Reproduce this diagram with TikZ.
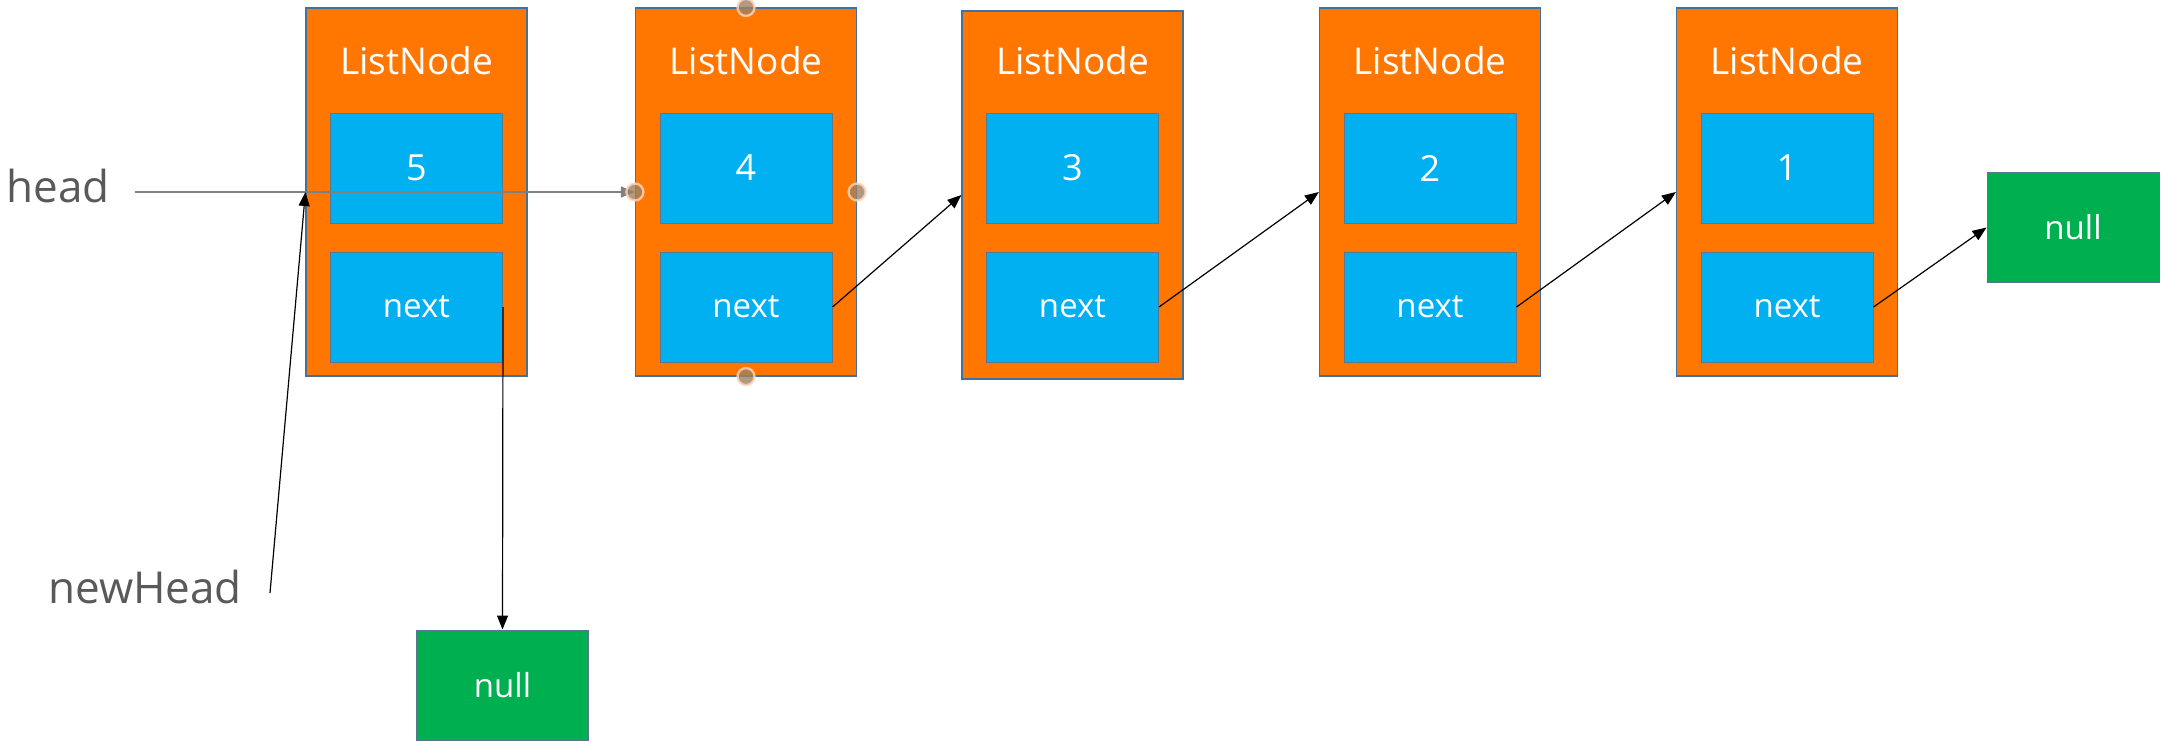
\documentclass[tikz,border=0pt]{standalone}
\usepackage{fontspec}
\setmainfont{Open Sans}
\usetikzlibrary{arrows.meta, positioning}

\definecolor{nodeorange}{RGB}{255,118,0}
\definecolor{fieldblue}{RGB}{0,176,240}
\definecolor{nullgreen}{RGB}{0,176,80}
\definecolor{edgeblue}{RGB}{65,113,156}
\definecolor{labelgray}{RGB}{89,89,89}
\definecolor{handlerim}{RGB}{255,214,190}

\tikzset{
  listnode/.style={draw=edgeblue, line width=0.6pt, fill=nodeorange, minimum width=110.5pt, minimum height=184pt, inner sep=0pt},
  field/.style={draw=edgeblue!60!gray, line width=0.5pt, fill=fieldblue, text=white, minimum width=86pt, minimum height=55pt, inner sep=0pt, font=\fontsize{16.5}{18}\selectfont},
  value/.style={field, font=\fontsize{18}{20}\selectfont},
  nullbox/.style={field, fill=nullgreen},
  title/.style={text=white, inner sep=0pt, font=\fontsize{18.5}{20}\selectfont},
  pointer/.style={text=labelgray, inner sep=0pt, font=\fontsize{22}{24}\selectfont},
  link/.style={line width=0.6pt, -{Triangle[length=7pt,width=5.5pt]}},
  handle/.style={circle, fill=gray!75!orange, draw=handlerim, line width=1.2pt, minimum size=8.5pt, inner sep=0pt, opacity=0.8}
}

\begin{document}
\begin{tikzpicture}[x=0.5pt, y=-0.5pt]
				\useasboundingbox (0, 0) rectangle (2162, 746);

				\node (N1) [listnode] at (416.5, 192) {};
				\node (T1) [title] at (416.5, 61) {ListNode};
				\node (V1) [value] at (416.5, 168) {5};
				\node (X1) [field] at (416.5, 307) {next};

				\node (N2) [listnode] at (746, 192) {};
				\node (T2) [title] at (746, 61) {ListNode};
				\node (V2) [value] at (746, 168) {4};
				\node (X2) [field] at (746, 307) {next};

				\node (N3) [listnode] at (1072.5, 195) {};
				\node (T3) [title] at (1072.5, 61) {ListNode};
				\node (V3) [value] at (1072.5, 168) {3};
				\node (X3) [field] at (1072.5, 307) {next};

				\node (N4) [listnode] at (1430, 192) {};
				\node (T4) [title] at (1430, 61) {ListNode};
				\node (V4) [value] at (1430, 168) {2};
				\node (X4) [field] at (1430, 307) {next};

				\node (N5) [listnode] at (1787, 192) {};
				\node (T5) [title] at (1787, 61) {ListNode};
				\node (V5) [value] at (1787, 168) {1};
				\node (X5) [field] at (1787, 307) {next};

				\node (NullR) [nullbox] at (2073, 227.5) {null};
				\node (NullB) [nullbox] at (502.5, 685) {null};

				\node (Head) [pointer] at (58, 186) {head};
				\node (NewHead) [pointer] at (145, 587) {newHead};
				\coordinate (HeadTail) at (135, 192);
				\coordinate (NewHeadTail) at (270, 593);

				\draw[link, draw=gray, fill=gray] (HeadTail) -- (N2.west);
				\draw[link] (NewHeadTail) -- (N1.west);
				\draw[link] (X1.east) -- (NullB.north);
				\draw[link] (X2.east) -- (N3.west);
				\draw[link] (X3.east) -- (N4.west);
				\draw[link] (X4.east) -- (N5.west);
				\draw[link] (X5.east) -- (NullR.west);

				\node (H2n) [handle] at (N2.north) {};
				\node (H2s) [handle] at (N2.south) {};
				\node (H2w) [handle] at (N2.west) {};
				\node (H2e) [handle] at (N2.east) {};
			\end{tikzpicture}
\end{document}
